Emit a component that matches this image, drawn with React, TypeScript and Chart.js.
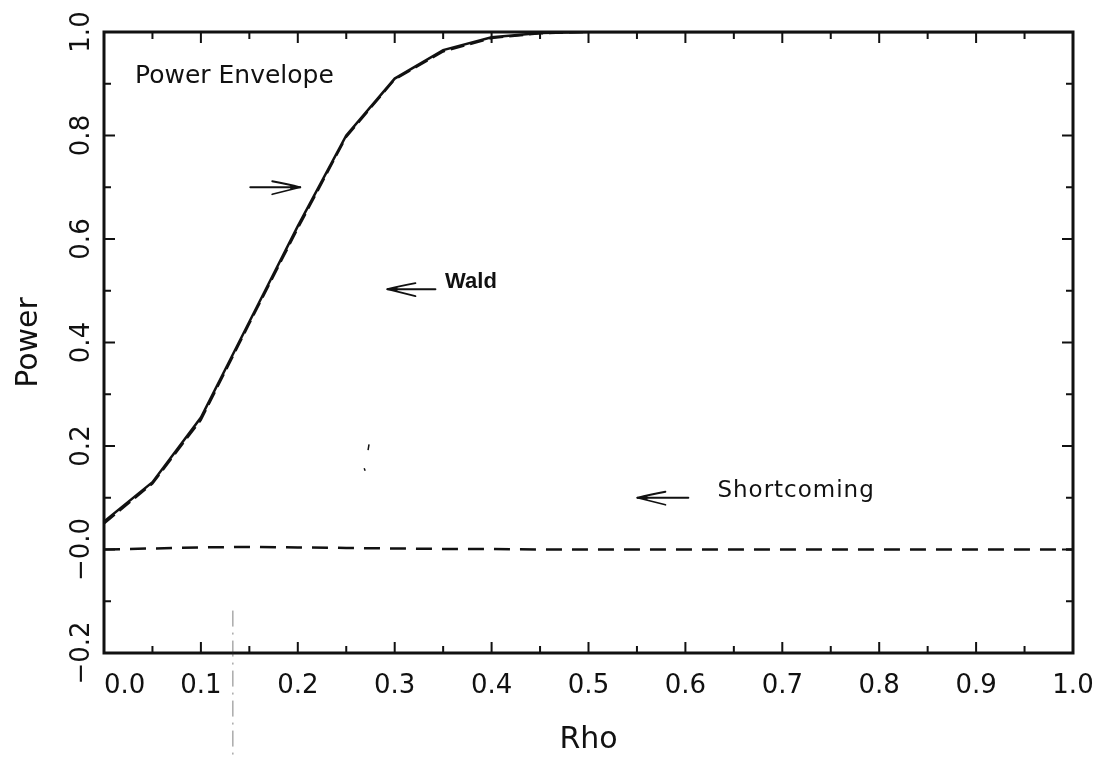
import { useEffect, useRef } from "react";
import { Chart, registerables } from "chart.js";

Chart.register(...registerables);

// Rho grid on which the power curves were evaluated
const rho = [
  0, 0.05, 0.1, 0.15, 0.2, 0.25, 0.3, 0.35, 0.4, 0.45, 0.5,
  0.55, 0.6, 0.65, 0.7, 0.75, 0.8, 0.85, 0.9, 0.95, 1.0,
];

// Power envelope (solid)
const envelope = [
  0.054, 0.13, 0.255, 0.44, 0.625, 0.8, 0.91, 0.965, 0.99, 0.998, 1.0,
  1.0, 1.0, 1.0, 1.0, 1.0, 1.0, 1.0, 1.0, 1.0, 1.0,
];

// Wald test power (dashed, almost on top of the envelope)
const wald = [
  0.05, 0.127, 0.25, 0.436, 0.62, 0.797, 0.908, 0.962, 0.988, 0.997, 1.0,
  1.0, 1.0, 1.0, 1.0, 1.0, 1.0, 1.0, 1.0, 1.0, 1.0,
];

// Shortcoming = envelope - Wald power (dashed, near zero)
const shortcoming = [
  0.0, 0.002, 0.004, 0.005, 0.004, 0.003, 0.002, 0.001, 0.001, 0.0, 0.0,
  0.0, 0.0, 0.0, 0.0, 0.0, 0.0, 0.0, 0.0, 0.0, 0.0,
];

// Axis ticks and their labels
const xTickValues = [0, 0.1, 0.2, 0.3, 0.4, 0.5, 0.6, 0.7, 0.8, 0.9, 1.0];
const xTickLabels = ["0.0", "0.1", "0.2", "0.3", "0.4", "0.5", "0.6", "0.7", "0.8", "0.9", "1.0"];
const xMinorTicks = [0.05, 0.15, 0.25, 0.35, 0.45, 0.55, 0.65, 0.75, 0.85, 0.95];
const yTickValues = [-0.2, 0, 0.2, 0.4, 0.6, 0.8, 1.0];
const yTickLabels = ["\u22120.2", "\u22120.0", "0.2", "0.4", "0.6", "0.8", "1.0"];
const yMinorTicks = [-0.1, 0.1, 0.3, 0.5, 0.7, 0.9];

// Arrows: [tailRho, tailPower, tipRho, tipPower]
const arrows = [
  [0.151, 0.7, 0.2025, 0.7],
  [0.342, 0.503, 0.2925, 0.503],
  [0.603, 0.1, 0.5505, 0.1],
];

// Text notes: [text, rho, power, css font]
const notes: [string, number, number, string][] = [
  ["Power Envelope", 0.032, 0.901, '25px "DejaVu Sans", sans-serif'],
  ["Wald", 0.352, 0.506, 'bold 22px "Liberation Sans", Arial, sans-serif'],
  ["Shortcoming", 0.633, 0.101, '23px "DejaVu Sans", sans-serif'],
];

const FONT = '"DejaVu Sans", sans-serif';
const INK = "#111";

function drawArrow(ctx: CanvasRenderingContext2D, x0: number, y0: number, x1: number, y1: number) {
  const dir = Math.sign(x1 - x0);
  ctx.save();
  ctx.strokeStyle = INK;
  ctx.fillStyle = INK;
  ctx.lineWidth = 2;
  ctx.lineCap = "round";
  ctx.beginPath();
  ctx.moveTo(x0, y0);
  ctx.lineTo(x1, y1);
  ctx.stroke();
  const back = x1 - dir * 28;
  ctx.lineWidth = 1.8;
  ctx.beginPath();
  ctx.moveTo(back, y1 - 6);
  ctx.quadraticCurveTo(x1 - dir * 12, y1 - 3, x1, y1);
  ctx.moveTo(back, y1 + 7);
  ctx.quadraticCurveTo(x1 - dir * 12, y1 + 3, x1, y1);
  ctx.stroke();
  ctx.beginPath();
  ctx.moveTo(x1, y1);
  ctx.lineTo(x1 - dir * 10, y1 - 2.2);
  ctx.lineTo(x1 - dir * 10, y1 + 2.2);
  ctx.closePath();
  ctx.fill();
  ctx.restore();
}

const framePlugin = {
  id: "framePlugin",
  afterDraw(chart: any) {
    const { ctx, chartArea } = chart;
    const xs = chart.scales.x;
    const ys = chart.scales.y;
    const { left, right, top, bottom } = chartArea;
    ctx.save();

    // Frame
    ctx.strokeStyle = INK;
    ctx.lineWidth = 3;
    ctx.strokeRect(left, top, right - left, bottom - top);

    // Inward tick marks on all four sides
    ctx.lineWidth = 2;
    const major = 11;
    const minor = 7;
    const vTick = (v: number, len: number) => {
      const px = xs.getPixelForValue(v);
      ctx.beginPath();
      ctx.moveTo(px, bottom);
      ctx.lineTo(px, bottom - len);
      ctx.moveTo(px, top);
      ctx.lineTo(px, top + len);
      ctx.stroke();
    };
    const hTick = (v: number, len: number) => {
      const py = ys.getPixelForValue(v);
      ctx.beginPath();
      ctx.moveTo(left, py);
      ctx.lineTo(left + len, py);
      ctx.moveTo(right, py);
      ctx.lineTo(right - len, py);
      ctx.stroke();
    };
    xTickValues.forEach((v) => vTick(v, major));
    xMinorTicks.forEach((v) => vTick(v, minor));
    yTickValues.forEach((v) => hTick(v, major));
    yMinorTicks.forEach((v) => hTick(v, minor));

    // X tick labels
    ctx.fillStyle = INK;
    ctx.font = `26px ${FONT}`;
    ctx.textBaseline = "alphabetic";
    xTickValues.forEach((v, i) => {
      const px = xs.getPixelForValue(v);
      ctx.textAlign = i === 0 ? "left" : "center";
      ctx.fillText(xTickLabels[i], px, bottom + 40);
    });

    // Y tick labels, rotated
    yTickValues.forEach((v, i) => {
      const py = ys.getPixelForValue(v);
      ctx.save();
      ctx.translate(left - 15, py);
      ctx.rotate(-Math.PI / 2);
      ctx.textAlign = "center";
      ctx.fillText(yTickLabels[i], 0, 0);
      ctx.restore();
    });

    // Axis titles
    ctx.font = `30px ${FONT}`;
    ctx.textAlign = "center";
    ctx.fillText("Rho", (left + right) / 2, bottom + 95);
    ctx.save();
    ctx.translate(37, (top + bottom) / 2);
    ctx.rotate(-Math.PI / 2);
    ctx.fillText("Power", 0, 0);
    ctx.restore();

    // Notes and arrows
    ctx.textAlign = "left";
    notes.forEach(([text, r, p, font]) => {
      ctx.font = font;
      (ctx as any).letterSpacing = text === "Shortcoming" ? "1px" : "0px";
      ctx.fillText(text, xs.getPixelForValue(r), ys.getPixelForValue(p));
    });
    (ctx as any).letterSpacing = "0px";
    arrows.forEach(([r0, p0, r1, p1]) => {
      drawArrow(
        ctx,
        xs.getPixelForValue(r0),
        ys.getPixelForValue(p0),
        xs.getPixelForValue(r1),
        ys.getPixelForValue(p1)
      );
    });

    // Faint dash-dot guide below the axis and two stray pen marks
    const gx = xs.getPixelForValue(0.133);
    ctx.strokeStyle = "rgba(40,40,40,0.6)";
    ctx.lineWidth = 1;
    ctx.setLineDash([16, 6, 2, 6]);
    ctx.beginPath();
    ctx.moveTo(gx, ys.getPixelForValue(-0.118));
    ctx.lineTo(gx, chart.height);
    ctx.stroke();
    ctx.setLineDash([]);
    ctx.strokeStyle = INK;
    ctx.lineWidth = 1.5;
    ctx.beginPath();
    ctx.moveTo(xs.getPixelForValue(0.2735), ys.getPixelForValue(0.203));
    ctx.lineTo(xs.getPixelForValue(0.2725), ys.getPixelForValue(0.192));
    ctx.moveTo(xs.getPixelForValue(0.2685), ys.getPixelForValue(0.157));
    ctx.lineTo(xs.getPixelForValue(0.2695), ys.getPixelForValue(0.152));
    ctx.stroke();

    ctx.restore();
  },
};

export default function App() {
  const canvasRef = useRef<HTMLCanvasElement | null>(null);

  useEffect(() => {
    const canvas = canvasRef.current;
    if (!canvas) return;
    const chart = new Chart(canvas, {
      type: "line",
      data: {
        datasets: [
          {
            label: "Power Envelope",
            data: rho.map((r, i) => ({ x: r, y: envelope[i] })),
            borderColor: INK,
            borderWidth: 2.5,
            pointRadius: 0,
            tension: 0,
          },
          {
            label: "Wald",
            data: rho.map((r, i) => ({ x: r, y: wald[i] })),
            borderColor: INK,
            borderWidth: 2,
            borderDash: [14, 6],
            pointRadius: 0,
            tension: 0,
          },
          {
            label: "Shortcoming",
            data: rho.map((r, i) => ({ x: r, y: shortcoming[i] })),
            borderColor: INK,
            borderWidth: 2.5,
            borderDash: [16, 10],
            pointRadius: 0,
            tension: 0,
          },
        ],
      },
      options: {
        animation: false,
        responsive: false,
        layout: { padding: { left: 104, right: 28, top: 32, bottom: 104 } },
        plugins: { legend: { display: false }, tooltip: { enabled: false } },
        scales: {
          x: { type: "linear", min: 0, max: 1, display: false },
          y: { type: "linear", min: -0.2, max: 1.0, display: false },
        },
      },
      plugins: [framePlugin],
    });
    return () => chart.destroy();
  }, []);

  return (
    <div style={{ position: "absolute", left: 0, top: 0, width: 1101, height: 757, background: "#fff" }}>
      <canvas ref={canvasRef} width={1101} height={757} style={{ display: "block" }} />
    </div>
  );
}
